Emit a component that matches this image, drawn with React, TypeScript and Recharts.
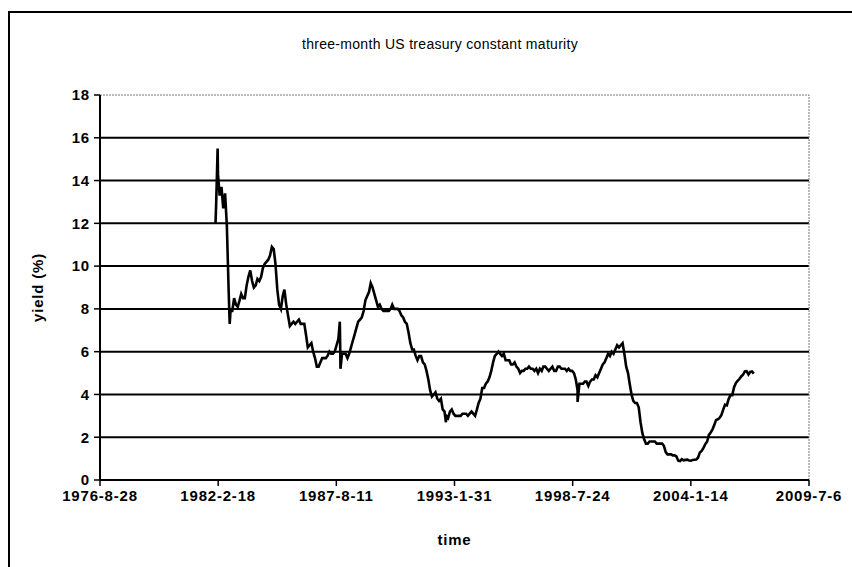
import React from 'react';
import { LineChart, Line, XAxis, YAxis, ReferenceLine } from 'recharts';

// x axis ticks, every 2000 days
const TICK_DATES = ['1976-8-28', '1982-2-18', '1987-8-11', '1993-1-31', '1998-7-24', '2004-1-14', '2009-7-6'];
const Y_TICKS = [0, 2, 4, 6, 8, 10, 12, 14, 16, 18];

// monthly yields (%), Jan..Dec
const FIRST_YEAR = 1982;
const y1982 = [12.9, 14.3, 13.3, 13.7, 12.7, 13.4, 11.9, 8.8, 7.9, 7.9, 8.5, 8.2];
const y1983 = [8.1, 8.4, 8.7, 8.5, 8.5, 9.1, 9.5, 9.8, 9.3, 9.0, 9.1, 9.4];
const y1984 = [9.3, 9.5, 9.9, 10.1, 10.2, 10.3, 10.5, 10.9, 10.8, 10.1, 8.9, 8.2];
const y1985 = [8.0, 8.6, 8.9, 8.2, 7.7, 7.2, 7.3, 7.4, 7.3, 7.4, 7.5, 7.3];
const y1986 = [7.3, 7.3, 6.8, 6.2, 6.3, 6.4, 6.0, 5.7, 5.3, 5.3, 5.5, 5.7];
const y1987 = [5.7, 5.7, 5.8, 6.0, 5.9, 5.9, 6.0, 6.3, 6.6, 6.3, 5.9, 5.9];
const y1988 = [5.9, 5.7, 5.9, 6.2, 6.5, 6.8, 7.1, 7.4, 7.5, 7.6, 7.9, 8.4];
const y1989 = [8.6, 8.8, 9.2, 9.0, 8.7, 8.4, 8.1, 8.2, 8.0, 7.9, 7.9, 7.9];
const y1990 = [7.9, 8.0, 8.2, 8.0, 8.0, 8.0, 7.9, 7.7, 7.6, 7.4, 7.3, 6.9];
const y1991 = [6.4, 6.1, 6.1, 5.8, 5.6, 5.8, 5.8, 5.5, 5.4, 5.1, 4.7, 4.2];
const y1992 = [3.9, 4.0, 4.1, 3.8, 3.7, 3.8, 3.3, 3.2, 3.0, 2.9, 3.2, 3.3];
const y1993 = [3.1, 3.0, 3.0, 3.0, 3.0, 3.1, 3.1, 3.1, 3.0, 3.1, 3.2, 3.1];
const y1994 = [3.0, 3.3, 3.6, 3.8, 4.3, 4.3, 4.5, 4.6, 4.8, 5.1, 5.5, 5.8];
const y1995 = [5.9, 6.0, 5.9, 5.8, 5.9, 5.6, 5.6, 5.6, 5.4, 5.4, 5.5, 5.3];
const y1996 = [5.2, 5.0, 5.1, 5.1, 5.2, 5.2, 5.3, 5.2, 5.2, 5.1, 5.2, 5.0];
const y1997 = [5.2, 5.1, 5.3, 5.3, 5.2, 5.1, 5.2, 5.3, 5.1, 5.1, 5.3, 5.3];
const y1998 = [5.2, 5.2, 5.2, 5.1, 5.2, 5.1, 5.1, 5.0, 4.7, 4.2, 4.5, 4.5];
const y1999 = [4.5, 4.6, 4.6, 4.4, 4.6, 4.7, 4.7, 4.9, 4.8, 5.0, 5.2, 5.4];
const y2000 = [5.5, 5.7, 5.9, 5.8, 6.0, 5.9, 6.1, 6.3, 6.2, 6.3, 6.4, 5.9];
const y2001 = [5.3, 5.0, 4.5, 4.0, 3.7, 3.6, 3.6, 3.4, 2.7, 2.2, 1.9, 1.7];
const y2002 = [1.7, 1.8, 1.8, 1.8, 1.8, 1.7, 1.7, 1.7, 1.7, 1.6, 1.3, 1.2];
const y2003 = [1.2, 1.2, 1.15, 1.15, 1.1, 0.9, 0.88, 0.97, 0.92, 0.94, 0.95, 0.91];
const y2004 = [0.9, 0.94, 0.95, 0.96, 1.04, 1.29, 1.36, 1.5, 1.68, 1.79, 2.11, 2.22];
const y2005 = [2.37, 2.58, 2.8, 2.84, 2.9, 3.04, 3.29, 3.52, 3.49, 3.79, 3.97, 3.97];
const y2006 = [4.34, 4.54, 4.63, 4.72, 4.84, 4.92, 5.08, 5.09, 4.93, 5.05, 5.07, 4.97];

const YEAR_ROWS = [
  y1982, y1983, y1984, y1985, y1986, y1987, y1988, y1989, y1990, y1991, y1992, y1993, y1994,
  y1995, y1996, y1997, y1998, y1999, y2000, y2001, y2002, y2003, y2004, y2005, y2006,
];

// single days that stick out of the monthly line
const SPIKE_DATES = ['1982-1-4', '1982-2-9', '1982-9-1', '1987-10-9', '1987-10-20', '1992-9-8', '1998-10-15'];
const SPIKE_VALUES = [12.0, 15.5, 7.3, 7.4, 5.2, 2.7, 3.65];

const toTime = (s: string) => {
  const [y, m, d] = s.split('-').map(Number);
  return Date.UTC(y, m - 1, d);
};

const fmtDate = (v: number) => {
  const d = new Date(v);
  return `${d.getUTCFullYear()}-${d.getUTCMonth() + 1}-${d.getUTCDate()}`;
};

const xTicks = TICK_DATES.map(toTime);

const data = [
  ...YEAR_ROWS.flatMap((row, i) =>
    row.map((v, m) => ({ t: Date.UTC(FIRST_YEAR + i, m, 15), v }))
  ),
  ...SPIKE_DATES.map((s, i) => ({ t: toTime(s), v: SPIKE_VALUES[i] })),
].sort((a, b) => a.t - b.t);

const FONT = '"Liberation Sans", Arial, sans-serif';
const tickStyle = { fill: '#000', fontSize: 15, fontWeight: 'bold' as const, fontFamily: FONT, letterSpacing: 0.8 };
const labelStyle = { fill: '#000', fontSize: 15, fontWeight: 'bold' as const, fontFamily: FONT, letterSpacing: 0.8 };

export default function App() {
  return (
    <div style={{ position: 'absolute', left: 0, top: 0, width: 852, height: 567, overflow: 'hidden', background: '#fff', fontFamily: FONT }}>
      {/* outer chart frame */}
      <div style={{ position: 'absolute', left: 8, top: 11, width: 900, height: 600, borderLeft: '2px solid #000', borderTop: '2px solid #000' }} />
      <div style={{ position: 'absolute', left: 0, top: 36, width: 880, textAlign: 'center', fontSize: 14, letterSpacing: 0.3, lineHeight: '16px', color: '#000' }}>
        three-month US treasury constant maturity
      </div>
      <LineChart width={852} height={567} data={data} margin={{ top: 95, right: 43, bottom: 57, left: 40 }}>
        {Y_TICKS.slice(1, -1).map((y) => (
          <ReferenceLine key={y} y={y} stroke="#000" strokeWidth={2} />
        ))}
        <ReferenceLine y={18} stroke="#777" strokeWidth={1} strokeDasharray="2 1" />
        <ReferenceLine x={xTicks[xTicks.length - 1]} stroke="#777" strokeWidth={1} strokeDasharray="2 1" />
        <XAxis
          dataKey="t"
          type="number"
          domain={[xTicks[0], xTicks[xTicks.length - 1]]}
          ticks={xTicks}
          tickFormatter={fmtDate}
          allowDataOverflow
          height={30}
          tick={tickStyle}
          tickSize={6}
          tickMargin={4}
          axisLine={{ stroke: '#000', strokeWidth: 2 }}
          tickLine={{ stroke: '#000', strokeWidth: 1.5 }}
          label={{ value: 'time', position: 'bottom', offset: 24, style: labelStyle }}
        />
        <YAxis
          type="number"
          domain={[0, 18]}
          ticks={Y_TICKS}
          width={60}
          tick={tickStyle}
          tickSize={6}
          tickMargin={4}
          axisLine={{ stroke: '#000', strokeWidth: 2 }}
          tickLine={{ stroke: '#000', strokeWidth: 1.5 }}
          label={{ value: 'yield (%)', angle: -90, position: 'insideLeft', offset: -2, style: { ...labelStyle, textAnchor: 'middle' } }}
        />
        <Line
          type="linear"
          dataKey="v"
          stroke="#000"
          strokeWidth={2.6}
          dot={false}
          isAnimationActive={false}
        />
      </LineChart>
    </div>
  );
}
